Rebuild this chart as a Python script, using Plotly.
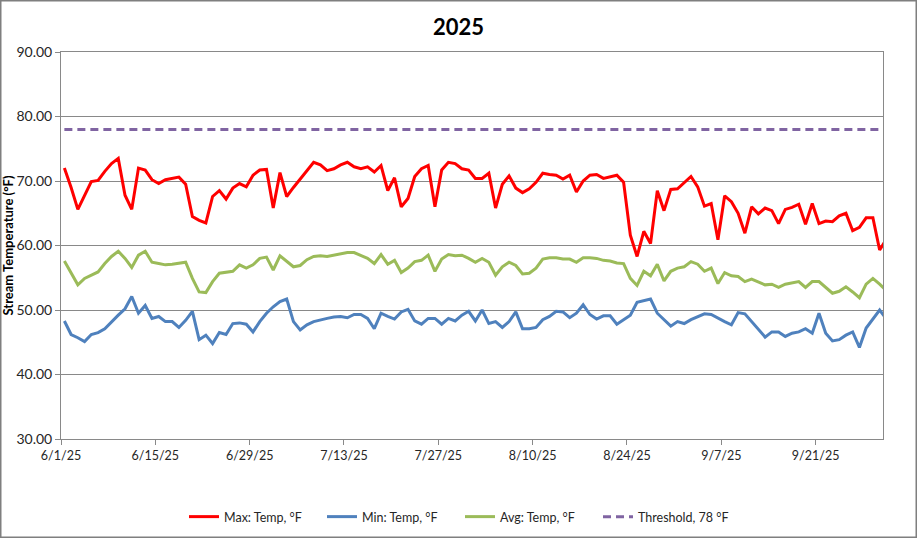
import pandas as pd
import plotly.graph_objects as go

# ---------------- data ----------------
start_date = "2025-06-01 12:00"
n_days = 123

max_temp = [72.0, 69.0, 65.6, 67.8, 69.9, 70.1, 71.5, 72.7, 73.5, 67.8,
            65.6, 72.0, 71.7, 70.2, 69.6, 70.2, 70.4, 70.6, 69.5, 64.5,
            63.9, 63.5, 67.6, 68.5, 67.2, 68.9, 69.6, 69.1, 70.9, 71.7,
            71.8, 65.8, 71.3, 67.6, 69.0, 70.3, 71.6, 72.9, 72.5, 71.6,
            71.9, 72.5, 72.9, 72.2, 71.9, 72.2, 71.4, 72.4, 68.5, 70.5,
            66.0, 67.3, 70.7, 71.9, 72.4, 66.0, 71.7, 72.9, 72.7, 71.9,
            71.7, 70.4, 70.4, 71.2, 65.8, 69.5, 70.8, 68.9, 68.2, 68.8,
            69.8, 71.2, 71.0, 70.9, 70.3, 70.9, 68.3, 70.0, 70.9, 71.0,
            70.4, 70.6, 70.9, 69.8, 61.6, 58.3, 62.2, 60.3, 68.5, 65.4,
            68.7, 68.8, 69.8, 70.7, 69.1, 66.1, 66.5, 60.9, 67.7, 66.8,
            65.0, 61.9, 66.0, 64.9, 65.8, 65.4, 63.4, 65.6, 65.9, 66.4,
            63.3, 66.5, 63.4, 63.8, 63.7, 64.6, 65.0, 62.3, 62.8, 64.3,
            64.3, 59.3, 61.0]

min_temp = [48.3, 46.2, 45.7, 45.1, 46.2, 46.5, 47.1, 48.2, 49.2, 50.2,
            52.1, 49.5, 50.7, 48.7, 49.0, 48.2, 48.2, 47.3, 48.4, 49.8,
            45.4, 46.1, 44.8, 46.5, 46.2, 47.9, 48.0, 47.8, 46.6, 48.2,
            49.5, 50.5, 51.3, 51.7, 48.2, 46.9, 47.7, 48.2, 48.5, 48.7,
            48.9, 49.0, 48.8, 49.3, 49.3, 48.7, 47.1, 49.5, 49.0, 48.6,
            49.7, 50.1, 48.3, 47.8, 48.7, 48.7, 47.8, 48.7, 48.3, 49.2,
            49.8, 48.3, 50.0, 47.9, 48.2, 47.3, 48.2, 49.7, 47.1, 47.1,
            47.3, 48.5, 49.0, 49.8, 49.7, 48.8, 49.5, 50.8, 49.3, 48.6,
            49.1, 49.1, 47.8, 48.5, 49.2, 51.2, 51.5, 51.7, 49.5, 48.5,
            47.5, 48.2, 47.9, 48.5, 49.0, 49.4, 49.3, 48.7, 48.2, 47.7,
            49.6, 49.4, 48.2, 47.1, 45.8, 46.6, 46.6, 45.9, 46.4, 46.6,
            47.1, 46.4, 49.5, 46.4, 45.2, 45.4, 46.1, 46.6, 44.2, 47.2,
            48.7, 50.0, 48.6]

avg_temp = [57.6, 55.8, 53.9, 54.9, 55.4, 55.9, 57.2, 58.3, 59.1, 58.0,
            56.6, 58.5, 59.1, 57.4, 57.2, 57.0, 57.1, 57.2, 57.4, 54.9,
            52.8, 52.7, 54.4, 55.7, 55.8, 56.0, 57.0, 56.5, 57.0, 58.0,
            58.2, 56.2, 58.4, 57.5, 56.7, 56.9, 57.8, 58.3, 58.4, 58.3,
            58.5, 58.8, 58.9, 58.9, 58.4, 58.0, 57.2, 58.6, 57.1, 57.7,
            55.8, 56.5, 57.5, 57.7, 58.5, 56.0, 57.9, 58.6, 58.4, 58.5,
            58.0, 57.4, 58.0, 57.4, 55.4, 56.7, 57.4, 56.9, 55.6, 55.7,
            56.5, 57.9, 58.1, 58.1, 57.9, 57.9, 57.4, 58.1, 58.1, 58.0,
            57.7, 57.6, 57.3, 57.2, 54.9, 53.8, 56.0, 55.3, 57.1, 54.5,
            56.0, 56.5, 56.7, 57.5, 57.1, 56.0, 56.5, 54.1, 55.8, 55.3,
            55.2, 54.4, 54.8, 54.3, 53.9, 54.0, 53.5, 54.0, 54.2, 54.4,
            53.5, 54.4, 54.4, 53.5, 52.6, 52.9, 53.6, 52.8, 51.9, 54.0,
            54.9, 54.0, 53.0]

threshold_value = 78.0

tick_dates = ["2025-06-01", "2025-06-15", "2025-06-29", "2025-07-13", "2025-07-27",
              "2025-08-10", "2025-08-24", "2025-09-07", "2025-09-21"]
tick_labels = ["6/1/25", "6/15/25", "6/29/25", "7/13/25", "7/27/25",
               "8/10/25", "8/24/25", "9/7/25", "9/21/25"]
y_ticks = [30, 40, 50, 60, 70, 80, 90]

dates = pd.date_range(start_date, periods=n_days, freq="D")
threshold = [threshold_value] * n_days

# ---------------- figure ----------------
FONT = "Lato, 'Open Sans', sans-serif"
W, H = 917, 538
L, R, T, B = 61, 34, 52, 99

fig = go.Figure()
fig.add_trace(go.Scatter(x=dates, y=max_temp, mode="lines", name="Max: Temp, °F",
                         line=dict(color="#FF0000", width=3)))
fig.add_trace(go.Scatter(x=dates, y=min_temp, mode="lines", name="Min: Temp, °F",
                         line=dict(color="#4F81BD", width=3)))
fig.add_trace(go.Scatter(x=dates, y=avg_temp, mode="lines", name="Avg: Temp, °F",
                         line=dict(color="#9BBB59", width=3)))
fig.add_trace(go.Scatter(x=dates, y=threshold, mode="lines", name="Threshold, 78 °F",
                         line=dict(color="#8064A2", width=3, dash="8px,5px")))

pw = W - L - R
ph = H - T - B
fig.add_shape(type="rect", xref="paper", yref="paper",
              x0=(0.75 - L) / pw, x1=(W - 0.75 - L) / pw,
              y0=-(H - 0.75 - T - ph) / ph, y1=(ph + T - 0.75) / ph,
              line=dict(color="#7F7F7F", width=1.5), layer="below")

fig.update_layout(
    width=W, height=H,
    margin=dict(l=L, r=R, t=T, b=B, autoexpand=False),
    paper_bgcolor="white", plot_bgcolor="white",
    font=dict(family=FONT, color="#262626"),
    title=dict(text="<b>2025</b>", x=0.5, xref="container", xanchor="center",
               y=1 - 27 / H, yref="container", yanchor="middle",
               font=dict(size=22, color="#000000", family=FONT)),
    showlegend=True,
    legend=dict(orientation="h", x=(184 - L) / pw, xanchor="left",
                y=-(517 - (T + ph)) / ph, yanchor="middle",
                font=dict(size=12.5, color="#262626", family=FONT),
                entrywidth=93, entrywidthmode="pixels",
                traceorder="normal"),
    xaxis=dict(type="date", range=["2025-06-01", "2025-10-01"],
               tickvals=tick_dates, ticktext=tick_labels, automargin=False,
               showgrid=False, showline=True, linecolor="#898989", linewidth=1,
               mirror=True, ticks="outside", ticklen=5, tickcolor="#898989",
               tickfont=dict(size=12.5, color="#262626", family=FONT),
               zeroline=False),
    yaxis=dict(range=[30, 90], tickvals=y_ticks, tickformat=".2f", automargin=False,
               showgrid=True, gridcolor="#898989", gridwidth=1,
               showline=True, linecolor="#898989", linewidth=1, mirror=True,
               ticks="outside", ticklen=5, tickcolor="#898989",
               tickfont=dict(size=14, color="#262626", family=FONT),
               title=dict(text="<b>Stream Temperature (°F)</b>", standoff=4,
                          font=dict(size=13, color="#000000", family=FONT)),
               zeroline=False),
)

fig.write_html("out.html", config={"displayModeBar": False},
               post_script="document.body.style.margin='0';")
